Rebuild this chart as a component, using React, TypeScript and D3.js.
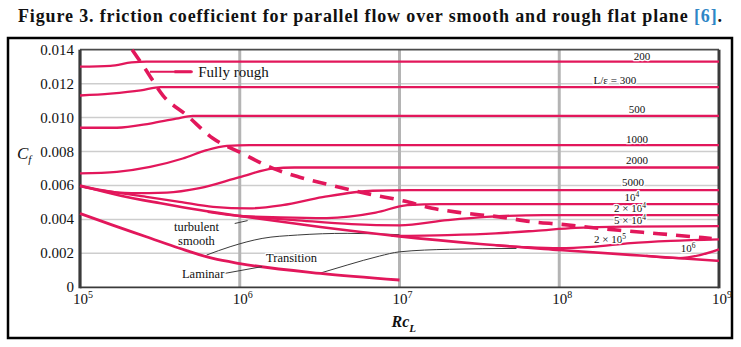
import React from 'react';
import * as d3 from 'd3';

type P = [number, number];

const RED = '#e2175b';
const FONT = "'Liberation Serif', 'Times New Roman', serif";

// Rough-plate curves, [Re_L, Cf]
const c200: P[] = [[1e5, 0.0130], [1.55e5, 0.01305], [2.1e5, 0.01325], [2.6e5, 0.0133], [1e9, 0.0133]];
const c300: P[] = [[1e5, 0.0113], [1.55e5, 0.01141], [2.4e5, 0.0116], [3.2e5, 0.0118], [1e9, 0.0118]];
const c500: P[] = [[1e5, 0.0094], [1.7e5, 0.0094], [2.75e5, 0.00965], [4.0e5, 0.00994], [5.1e5, 0.0101], [1e9, 0.0101]];
const c1000: P[] = [[1e5, 0.00671], [1.7e5, 0.0068], [2.75e5, 0.00709], [4.4e5, 0.00759], [6.2e5, 0.00808], [8.3e5, 0.00833], [1.15e6, 0.00838], [1e9, 0.00838]];
const c2000: P[] = [[1e5, 0.00596], [1.33e5, 0.00572], [2.1e5, 0.00555], [3.5e5, 0.00558], [5.6e5, 0.00584], [1e6, 0.00649], [1.6e6, 0.00699], [2.2e6, 0.00706], [1e9, 0.00706]];
const c5000: P[] = [[1e5, 0.00596], [1.6e5, 0.00562], [2.6e5, 0.00533], [4.2e5, 0.00504], [6.8e5, 0.00474], [1.15e6, 0.00465], [1.85e6, 0.00484], [3.3e6, 0.00531], [6.8e6, 0.00569], [1.15e7, 0.00572], [1e9, 0.00572]];
const c1e4: P[] = [[6.3e5, 0.00445], [1e6, 0.00421], [1.8e6, 0.00412], [3.5e6, 0.00408], [7.1e6, 0.0044], [1.12e7, 0.00484], [1.8e7, 0.0049], [1e9, 0.0049]];
const c2e4: P[] = [[1e6, 0.0042], [2.2e6, 0.00396], [5e6, 0.00372], [1e7, 0.00365], [2e7, 0.00396], [3.5e7, 0.00415], [8e7, 0.00425], [1e9, 0.00425]];
const c5e4: P[] = [[8.9e6, 0.00303], [2e7, 0.00308], [4e7, 0.00318], [7.1e7, 0.00333], [1.26e8, 0.0035], [2.5e8, 0.00358], [1e9, 0.0036]];
const c2e5: P[] = [[4e7, 0.00248], [6.3e7, 0.00236], [1e8, 0.0023], [1.6e8, 0.00238], [2.8e8, 0.0026], [5e8, 0.00273], [1e9, 0.00282]];
const c1e6: P[] = [[3.5e8, 0.00185], [5.6e8, 0.00172], [7.6e8, 0.0019], [1e9, 0.00224]];

const smooth: P[] = [[1e5, 0.0060], [1.8e5, 0.0054], [3.2e5, 0.00495], [5.6e5, 0.00455], [1e6, 0.0042], [3.2e6, 0.00355], [1e7, 0.0030], [3.2e7, 0.00255], [1e8, 0.0022], [3.2e8, 0.00187], [1e9, 0.00156]];
const laminar: P[] = [[1e5, 0.00435], [1.6e5, 0.00366], [2.6e5, 0.00298], [4.2e5, 0.0023], [6.8e5, 0.0017], [1e6, 0.0014], [3.2e6, 0.00082], [1e7, 0.00043]];
const fullyRough: P[] = [[2.12e5, 0.0140], [2.55e5, 0.0129], [3.3e5, 0.01131], [4.67e5, 0.01013], [6.78e5, 0.00878], [1e6, 0.00796], [1.6e6, 0.00702], [2.37e6, 0.00649], [4.2e6, 0.0059], [6.5e6, 0.00549], [1.07e7, 0.00508], [1.6e7, 0.00466], [2.45e7, 0.00439], [4.2e7, 0.00415], [6.8e7, 0.00386], [1e8, 0.00372], [2.37e8, 0.00336], [4.2e8, 0.00316], [9.0e8, 0.00288]];
const transition1: P[] = [[6.2e5, 0.0019], [8.7e5, 0.00239], [1.38e6, 0.00288], [2.3e6, 0.00308], [4.7e6, 0.00318], [1e7, 0.0031]];
const transition2: P[] = [[3.2e6, 0.00084], [4.7e6, 0.00131], [7.5e6, 0.00184], [1e7, 0.00209], [2.05e7, 0.00224], [5.4e7, 0.00229]];

const roughCurves = [c200, c300, c500, c1000, c2000, c5000, c1e4, c2e4, c5e4, c2e5, c1e6];

// Right-hand curve labels: [text, superscript], anchor (Re, Cf)
const roughLabelText = ['200', 'L/ε = 300', '500', '1000', '2000', '5000', '10', '2 × 10', '5 × 10', '2 × 10', '10'];
const roughLabelSup = ['', '', '', '', '', '', '4', '4', '4', '5', '6'];
const roughLabelRe = [3.3e8, 2.23e8, 3.07e8, 3.07e8, 3.07e8, 2.9e8, 2.85e8, 2.77e8, 2.77e8, 2.08e8, 6.4e8];
const roughLabelCf = [0.01341, 0.0120, 0.01029, 0.00853, 0.00724, 0.00595, 0.00508, 0.00441, 0.00373, 0.00259, 0.00209];

const yTicks = [0, 0.002, 0.004, 0.006, 0.008, 0.010, 0.012, 0.014];
const yTickLabels = ['0', '0.002', '0.004', '0.006', '0.008', '0.010', '0.012', '0.014'];
const xTicks = [1e5, 1e6, 1e7, 1e8, 1e9];
const xTickExp = ['5', '6', '7', '8', '9'];

export default function App() {
  const x = d3.scaleLog().domain([1e5, 1e9]).range([80, 719]);
  const y = d3.scaleLinear().domain([0, 0.014]).range([287.3, 49.7]);
  const line = d3.line<P>().x(d => x(d[0])).y(d => y(d[1])).curve(d3.curveMonotoneX);

  const halo = { paintOrder: 'stroke' as const, stroke: '#fff', strokeWidth: 2.5, strokeLinejoin: 'round' as const };

  return (
    <svg width={741} height={347} style={{ position: 'absolute', left: 0, top: 0, background: '#fff', fontFamily: FONT }}>
      <rect x={0} y={0} width={741} height={347} fill="#fff" />
      <text x={18} y={22} fontSize={18} fontWeight="bold" textLength={704} lengthAdjust="spacing" fill="#111">
        Figure 3. friction coefficient for parallel flow over smooth and rough flat plane <tspan fill="#2f86c6">[6]</tspan>.
      </text>
      <rect x={8} y={38} width={724} height={300} fill="none" stroke="#000" strokeWidth={2.5} />

      {/* grid */}
      {yTicks.slice(1, -1).map(t => (
        <line key={'gy' + t} x1={x(1e5)} x2={x(1e9)} y1={y(t)} y2={y(t)} stroke="#cdcdcd" strokeWidth={1.5} />
      ))}
      {xTicks.slice(1, -1).map(t => (
        <line key={'gx' + t} x1={x(t)} x2={x(t)} y1={y(0.014)} y2={y(0)} stroke="#b4b4b4" strokeWidth={3} />
      ))}
      <line x1={x(1e5)} x2={x(1e9)} y1={y(0.014)} y2={y(0.014)} stroke="#4a4a4a" strokeWidth={1.7} />
      <line x1={x(1e5)} x2={x(1e9)} y1={y(0)} y2={y(0)} stroke="#3a3a3a" strokeWidth={1.7} />
      <line x1={x(1e5)} x2={x(1e5)} y1={y(0.014)} y2={y(0) + 1} stroke="#3a3a3a" strokeWidth={3.2} />
      <line x1={x(1e9)} x2={x(1e9)} y1={y(0.014)} y2={y(0) + 1} stroke="#3a3a3a" strokeWidth={3} />

      {/* transition curves */}
      <path d={line(transition1) || ''} fill="none" stroke="#3a3a3a" strokeWidth={1} />
      <path d={line(transition2) || ''} fill="none" stroke="#3a3a3a" strokeWidth={1} />

      {/* red curves */}
      {roughCurves.map((c, i) => (
        <path key={'rc' + i} d={line(c) || ''} fill="none" stroke={RED} strokeWidth={2.3} />
      ))}
      <path d={line(smooth) || ''} fill="none" stroke={RED} strokeWidth={2.6} />
      <path d={line(laminar) || ''} fill="none" stroke={RED} strokeWidth={2.8} />
      <path d={line(fullyRough) || ''} fill="none" stroke={RED} strokeWidth={3.6} strokeDasharray="14 9" />

      {/* annotations */}
      <line x1={x(2.74e5)} x2={x(5.08e5)} y1={y(0.0127)} y2={y(0.0127)} stroke={RED} strokeWidth={1.8} />
      <line x1={x(3.9e5)} x2={x(5.0e5)} y1={y(0.0127)} y2={y(0.0127)} stroke={RED} strokeWidth={3} />
      <text x={x(5.5e5)} y={y(0.01237)} fontSize={15} fill="#111">Fully rough</text>

      <line x1={x(9.3e5)} x2={x(1.12e6)} y1={y(0.00376)} y2={y(0.00393)} stroke="#3a3a3a" strokeWidth={1} />
      <line x1={x(7.96e5)} x2={x(1.38e6)} y1={y(0.00081)} y2={y(0.00122)} stroke="#3a3a3a" strokeWidth={1} />
      <text x={x(5.36e5)} y={y(0.00331)} fontSize={12.5} textAnchor="middle" fill="#111" {...halo}>turbulent</text>
      <text x={x(5.36e5)} y={y(0.00249)} fontSize={12.5} textAnchor="middle" fill="#111" {...halo}>smooth</text>
      <text x={x(5.9e5)} y={y(0.00053)} fontSize={12.5} textAnchor="middle" fill="#111" {...halo}>Laminar</text>
      <text x={x(2.11e6)} y={y(0.00147)} fontSize={12.5} textAnchor="middle" fill="#111" {...halo}>Transition</text>

      {roughLabelText.map((t, i) => (
        <text key={'rl' + i} x={x(roughLabelRe[i])} y={y(roughLabelCf[i])} fontSize={11} textAnchor="middle" fill="#111" {...halo}>
          {t}
          {roughLabelSup[i] && <tspan dy={-4} fontSize={7.5}>{roughLabelSup[i]}</tspan>}
        </text>
      ))}

      {/* axes labels */}
      {yTicks.map((t, i) => (
        <text key={'yt' + t} x={x(1e5) - 6} y={y(t) + 5} fontSize={15} textAnchor="end" fill="#111">{yTickLabels[i]}</text>
      ))}
      {xTicks.map((t, i) => (
        <text key={'xt' + t} x={x(t) - 7} y={y(0) + 17} fontSize={15} fill="#111">
          10<tspan dy={-6} fontSize={10}>{xTickExp[i]}</tspan>
        </text>
      ))}
      <text x={17} y={159} fontSize={17} fontStyle="italic" fill="#111">
        C<tspan dy={4} fontSize={11}>f</tspan>
      </text>
      <text x={x(1e7) - 8} y={327} fontSize={16} fontStyle="italic" fontWeight="bold" fill="#111">
        Rc<tspan dy={5} fontSize={11}>L</tspan>
      </text>
    </svg>
  );
}
